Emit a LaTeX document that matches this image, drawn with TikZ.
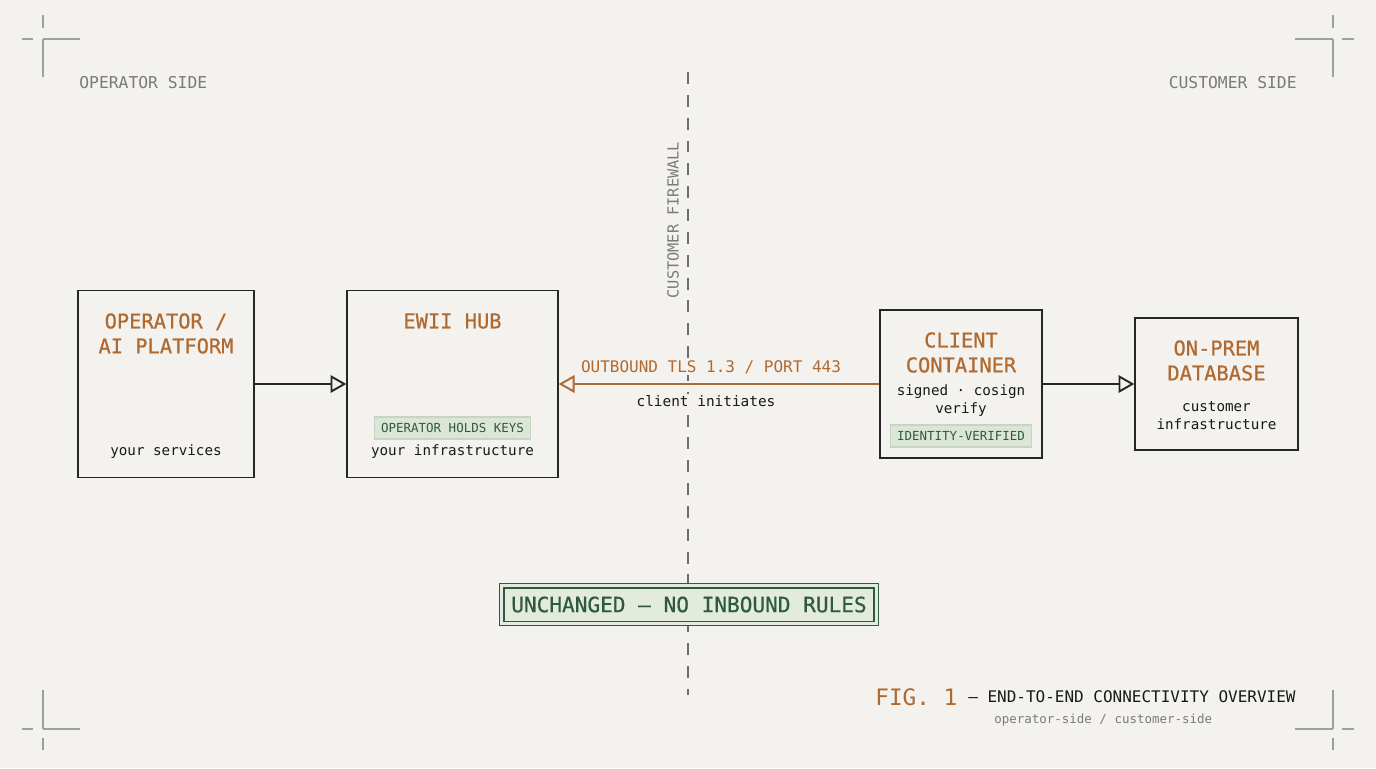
\documentclass[tikz,border=0pt]{standalone}
\usepackage{fontspec}
\setmainfont{DejaVu Sans Mono}
\setmonofont{DejaVu Sans Mono}
\newfontfamily\medfont[FakeBold=0.6]{DejaVu Sans Mono}
\usetikzlibrary{positioning}
\usetikzlibrary{arrows.meta}
\definecolor{bgc}{HTML}{F3F2EE}
\definecolor{orng}{HTML}{B0692F}
\definecolor{grn}{HTML}{2E5B3B}
\definecolor{tagfill}{HTML}{DCE6D8}
\definecolor{tagline}{HTML}{C6D4C2}
\definecolor{bannerfill}{HTML}{E3EBDF}
\definecolor{grayt}{HTML}{7A7A77}
\definecolor{wallc}{HTML}{6E6E6C}
\tikzset{
    boxn/.style = {draw=black!85, line width=0.8pt, inner sep=0pt},
    titleo/.style = {align=center, text=orng, inner sep=0pt, font=\medfont\fontsize{11.6}{14.2}\selectfont},
    bodyn/.style = {align=center, text=black!90, inner sep=0pt, font=\fontsize{8.1}{10.2}\selectfont},
    tagg/.style = {fill=tagfill, draw=tagline, line width=0.6pt, text=grn, minimum height=0.44cm, inner xsep=0.13cm, inner ysep=0pt, font=\fontsize{7.1}{8}\selectfont},
    sidel/.style = {text=grayt, inner sep=0pt, font=\fontsize{9.3}{11}\selectfont},
    edgen/.style = {-{Triangle[open, length=9pt, width=10pt]}, line width=1.1pt, black!85},
    edgeo/.style = {-{Triangle[open, length=9pt, width=10pt]}, line width=1.1pt, orng},
    wall/.style = {line width=1.1pt, wallc, dash pattern=on 6.8pt off 6.2pt},
    banner/.style = {preaction={fill=bannerfill}, draw=grn, double=bannerfill, double distance=1.4pt, line width=1pt, text=grn, minimum width=7.5cm, minimum height=0.76cm, font=\medfont\fontsize{12}{14}\selectfont},
    crop/.style = {line width=0.8pt, gray!75}
}

\begin{document}
\begin{tikzpicture}[x=0.02cm, y=-0.02cm]
\fill[bgc] (0,0) rectangle (1376,768);
\useasboundingbox (0,0) rectangle (1376,768);

% crop marks
\draw[crop] (43,15) -- (43,28) (43,39) -- (43,77) (22,39) -- (33,39) (43,39) -- (80,39);
\draw[crop] (1333,15) -- (1333,28) (1333,39) -- (1333,77) (1295,39) -- (1333,39) (1342,39) -- (1354,39);
\draw[crop] (43,690) -- (43,729) (43,738) -- (43,750) (22,729) -- (33,729) (43,729) -- (80,729);
\draw[crop] (1333,690) -- (1333,729) (1333,738) -- (1333,750) (1295,729) -- (1333,729) (1342,729) -- (1354,729);

\node[sidel, anchor=west] at (79,83) (opside) {OPERATOR SIDE};
\node[sidel, anchor=east] at (1297,83) (cuside) {CUSTOMER SIDE};

% firewall
\coordinate (walltop) at (688,72);
\coordinate (wallbot) at (688,695);
\draw[wall] (walltop) -- (wallbot);
\node[sidel, rotate=90, font=\fontsize{8.7}{10}\selectfont] at (673,220) (walllbl) {CUSTOMER FIREWALL};

% boxes
\node[boxn, minimum width=3.52cm, minimum height=3.74cm] at (166,384) (op) {};
\node[boxn, minimum width=4.22cm, minimum height=3.74cm] at (452.5,384) (hub) {};
\node[boxn, minimum width=3.24cm, minimum height=2.96cm] at (961,384) (cli) {};
\node[boxn, minimum width=3.26cm, minimum height=2.64cm] at (1216.5,384) (db) {};

\node[titleo] at (166,333.5) (opt) {OPERATOR /\\AI PLATFORM};
\node[bodyn] at (166,452) (opb) {your services};

\node[titleo] at (452.5,321) (hubt) {EWII HUB};
\node[tagg] at (452.5,428) (hubtag) {OPERATOR HOLDS KEYS};
\node[bodyn] at (452.5,452) (hubb) {your infrastructure};

\node[titleo] at (961,352.5) (clit) {CLIENT\\CONTAINER};
\node[bodyn] at (961,401) (clib) {signed · cosign\\verify};
\node[tagg] at (961,436) (clitag) {IDENTITY-VERIFIED};

\node[titleo] at (1216.5,360.5) (dbt) {ON-PREM\\DATABASE};
\node[bodyn] at (1216.5,416) (dbb) {customer\\infrastructure};

% labels on the tunnel, then the connectors
\node[fill=bgc, inner sep=1pt, text=orng, font=\fontsize{9.1}{11}\selectfont] at (711,367) (tlslbl) {OUTBOUND TLS 1.3 / PORT 443};
\node[fill=bgc, inner sep=1pt, text=black!90, font=\fontsize{8.2}{10}\selectfont] at (706,401) (initlbl) {client initiates};

\draw[edgen] (op.east) -- (hub.west);
\draw[edgeo] (cli.west) -- (hub.east);
\draw[edgen] (cli.east) -- (db.west);

\node[banner] at (689,604.5) (rules) {UNCHANGED — NO INBOUND RULES};

% caption
\node[anchor=west, inner sep=0pt, text=orng, font=\fontsize{12.9}{15}\selectfont] at (875,697) (fig) {FIG. 1};
\node[anchor=west, inner sep=0pt, text=black!90, font=\fontsize{9.1}{11}\selectfont] at (968,697) (figt) {— END-TO-END CONNECTIVITY OVERVIEW};
\node[anchor=west, inner sep=0pt, text=grayt, font=\fontsize{7.1}{9}\selectfont] at (994,720) (figs) {operator-side / customer-side};

\end{tikzpicture}
\end{document}
